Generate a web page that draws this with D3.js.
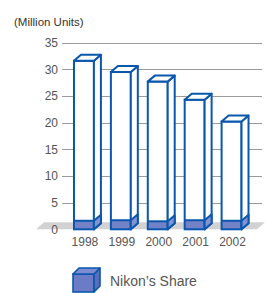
<!DOCTYPE html>
<html>
<head>
<meta charset="UTF-8" />
<title>Million Units</title>
<script src="https://d3js.org/d3.v7.min.js"></script>
<style type="text/css">
    body { margin: 0; background: #fff; font-family: 'Liberation Sans', Arial, sans-serif; }
    svg { display: block; }
</style>
</head>
<body>
<div id="chart"></div>
<script>
    var years = ["1998", "1999", "2000", "2001", "2002"];
    var totalUnits = [31.6, 29.5, 27.7, 24.3, 20.2];
    var nikonShare = [1.6, 1.7, 1.5, 1.7, 1.6];
    var yTicks = [0, 5, 10, 15, 20, 25, 30, 35];

    var w = 266, h = 293;
    var dx = 7, dy = -6;   // depth of the 3d boxes
    var blue = "#0b57ad";

    var svg = d3.select("#chart").append("svg")
        .attr("width", w)
        .attr("height", h);

    var x = d3.scaleBand()
        .domain(years)
        .range([65.5, 250])
        .paddingInner(0.46)
        .paddingOuter(0.23);

    var y = d3.scaleLinear()
        .domain([0, 35])
        .range([229.3, 42.7]);

    // title
    svg.append("text")
        .attr("x", 14)
        .attr("y", 26)
        .attr("font-size", 11.5)
        .attr("fill", "#333")
        .text("(Million Units)");

    // floor
    var y0 = y(0);
    svg.append("path")
        .attr("d", "M36," + y0 + "L" + (36 + dx + 1) + "," + (y0 + dy - 1) + "L265," + (y0 + dy - 1) + "L257," + y0 + "Z")
        .attr("fill", "#d3d1d1");

    // grid
    var grid = svg.append("g");
    grid.selectAll("line")
        .data(yTicks.filter(function(d){ return d > 0; }))
        .enter().append("line")
        .attr("x1", 62).attr("x2", 262)
        .attr("y1", function(d){ return Math.round(y(d)) + 0.5; })
        .attr("y2", function(d){ return Math.round(y(d)) + 0.5; })
        .attr("stroke", "#9b9b9b")
        .attr("stroke-width", 1.2);

    grid.selectAll("text")
        .data(yTicks)
        .enter().append("text")
        .attr("x", 58)
        .attr("y", function(d){ return y(d); })
        .attr("dy", "0.36em")
        .attr("text-anchor", "end")
        .attr("font-size", 12)
        .attr("fill", "#555")
        .text(function(d){ return d; });

    // bars
    var bw = x.bandwidth();
    var bars = svg.selectAll(".bar")
        .data(years)
        .enter().append("g")
        .attr("class", "bar");

    function side(x1, yt, yb) {
        return "M" + x1 + "," + yt + "L" + (x1 + dx) + "," + (yt + dy) + "L" + (x1 + dx) + "," + (yb + dy) + "L" + x1 + "," + yb + "Z";
    }

    bars.each(function(d, i) {
        var g = d3.select(this);
        var x0 = x(d), x1 = x(d) + bw;
        var yt = y(totalUnits[i]), ys = y(nikonShare[i]);

        // front
        g.append("rect")
            .attr("x", x0).attr("y", yt)
            .attr("width", bw).attr("height", y0 - yt)
            .attr("fill", "#fff");
        g.append("rect")
            .attr("x", x0).attr("y", ys)
            .attr("width", bw).attr("height", y0 - ys)
            .attr("fill", "#7381c6");
        g.append("rect")
            .attr("x", x0).attr("y", yt)
            .attr("width", bw).attr("height", y0 - yt)
            .attr("fill", "none")
            .attr("stroke", blue).attr("stroke-width", 2);
        g.append("line")
            .attr("x1", x0).attr("x2", x1)
            .attr("y1", ys).attr("y2", ys)
            .attr("stroke", blue).attr("stroke-width", 2);

        // side
        g.append("path")
            .attr("d", side(x1, yt, y0))
            .attr("fill", "#fff")
            .attr("stroke", blue).attr("stroke-width", 2)
            .attr("stroke-linejoin", "round");
        g.append("path")
            .attr("d", side(x1, ys, y0))
            .attr("fill", "#8591d0")
            .attr("stroke", blue).attr("stroke-width", 2)
            .attr("stroke-linejoin", "round");

        // top
        g.append("path")
            .attr("d", "M" + x0 + "," + yt + "L" + (x0 + dx) + "," + (yt + dy) + "L" + (x1 + dx) + "," + (yt + dy) + "L" + x1 + "," + yt + "Z")
            .attr("fill", "#fff")
            .attr("stroke", blue).attr("stroke-width", 2)
            .attr("stroke-linejoin", "round");
    });

    // x labels
    svg.selectAll(".xl")
        .data(years)
        .enter().append("text")
        .attr("class", "xl")
        .attr("x", function(d){ return x(d) + bw / 2 + 1; })
        .attr("y", 246)
        .attr("text-anchor", "middle")
        .attr("font-size", 12)
        .attr("fill", "#555")
        .text(function(d){ return d; });

    // legend
    var lg = svg.append("g").attr("transform", "translate(73,274)");
    var lw = 21, lh = 18, ld = 6;
    lg.append("rect")
        .attr("x", 0).attr("y", 0)
        .attr("width", lw).attr("height", lh)
        .attr("fill", "#6c7bc5")
        .attr("stroke", blue).attr("stroke-width", 1.6);
    lg.append("path")
        .attr("d", "M" + lw + ",0L" + (lw + ld) + "," + (-ld) + "L" + (lw + ld) + "," + (lh - ld) + "L" + lw + "," + lh + "Z")
        .attr("fill", "#5c6cbd")
        .attr("stroke", blue).attr("stroke-width", 1.6)
        .attr("stroke-linejoin", "round");
    lg.append("path")
        .attr("d", "M0,0L" + ld + "," + (-ld) + "L" + (lw + ld) + "," + (-ld) + "L" + lw + ",0Z")
        .attr("fill", "#7f8cd0")
        .attr("stroke", blue).attr("stroke-width", 1.6)
        .attr("stroke-linejoin", "round");
    lg.append("text")
        .attr("x", 37)
        .attr("y", 7)
        .attr("dy", "0.36em")
        .attr("font-size", 14)
        .attr("fill", "#555")
        .text("Nikon\u2019s Share");
</script>
</body>
</html>
